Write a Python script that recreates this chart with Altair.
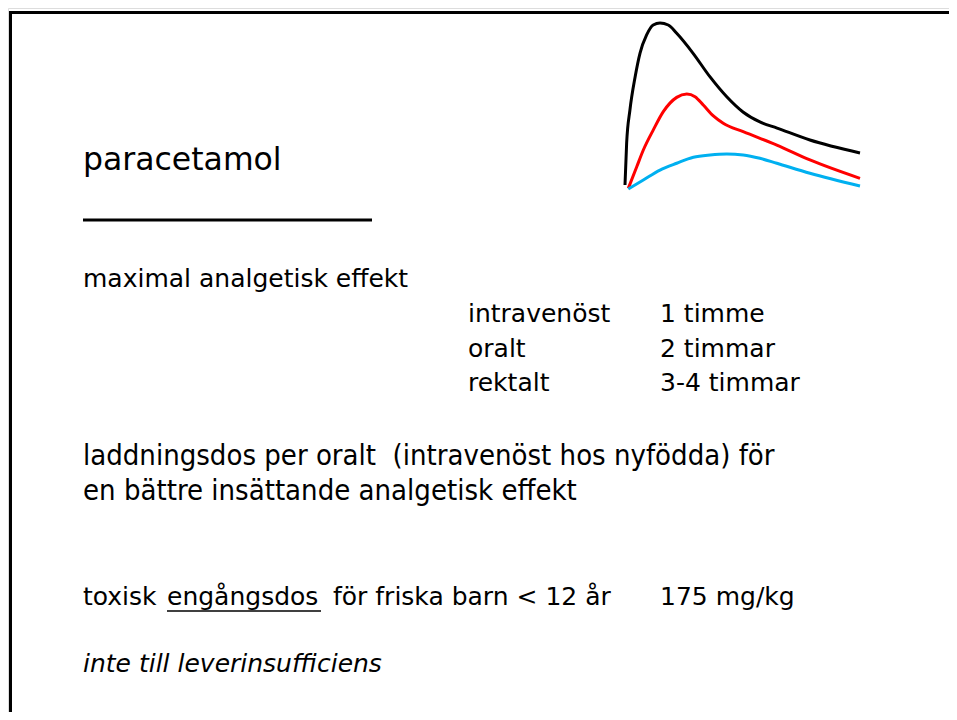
import altair as alt
import pandas as pd

# ---- page geometry (page pixel units, 8px margin) ----
W, H = 941, 704
XD = [8, 8 + W]
YD = [8, 8 + H]

# ---- curve data: time (h) vs relative concentration ----
black_t = [0.00, 0.07, 0.21, 0.43, 0.64, 0.92, 1.20, 1.49, 1.84, 2.20, 2.89, 3.62, 4.34, 5.02, 5.74, 6.47, 7.87, 10.0]
black_c = [2.4, 27.7, 47.6, 67.5, 81.9, 92.8, 98.8, 100.0, 98.8, 93.8, 81.9, 67.5, 55.4, 46.4, 40.4, 36.7, 29.5, 21.7]
red_t = [0.14, 0.50, 0.78, 1.20, 1.63, 2.20, 2.63, 2.98, 3.33, 3.76, 4.18, 5.03, 6.46, 7.87, 10.0]
red_c = [0.4, 13.4, 23.5, 35.5, 46.6, 55.2, 57.2, 55.6, 50.6, 44.0, 39.6, 34.5, 26.5, 17.5, 6.4]
blue_t = [0.14, 0.78, 1.49, 2.20, 2.91, 3.62, 4.33, 5.03, 5.74, 6.46, 7.87, 10.0]
blue_c = [0.0, 5.4, 11.4, 15.5, 19.1, 20.5, 21.1, 20.5, 18.5, 15.5, 9.5, 1.8]
series_names = ["intravenöst", "oralt", "rektalt"]
series_colors = ["#000000", "#FF0000", "#00B0F0"]

# ---- texts ----
title_text = ["paracetamol"]
body_text = ["maximal analgetisk effekt", "intravenöst", "oralt", "rektalt",
             "1 timme", "2 timmar", "3-4 timmar",
             "toxisk", "engångsdos", "för friska barn < 12 år", "175 mg/kg"]
narrow_text = ["laddningsdos per oralt \u00a0(intravenöst hos nyfödda) för",
               "en bättre insättande analgetisk effekt"]
italic_text = ["inte till leverinsufficiens"]

title_x, title_y = [83], [170]
body_x = [83, 468, 468, 468, 660, 660, 660, 83, 167, 333, 660]
body_y = [287, 322, 357, 391, 322, 357, 391, 605, 605, 605, 605]
narrow_x, narrow_y = [83, 83], [465, 500]
italic_x, italic_y = [83], [672]

# rules: frame left, frame top, title underline, word underline
rule_x = [10.5, 9, 83, 167]
rule_x2 = [10.5, 957, 372, 321]
rule_y = [11, 12.5, 220, 611]
rule_y2 = [720, 12.5, 220, 611]
rule_w = [3, 3, 3, 1.5]

xs = alt.Scale(domain=XD, range=[0, W])
ys = alt.Scale(domain=YD, range=[0, H])

def tdf(texts, xs_, ys_):
    return pd.DataFrame({"text": texts, "x": xs_, "y": ys_})

def text_layer(df, size, font, style="normal"):
    return alt.Chart(df).mark_text(
        align="left", baseline="alphabetic", fontSize=size, font=font,
        fontStyle=style, color="#000000"
    ).encode(
        x=alt.X("x:Q", scale=xs, axis=None),
        y=alt.Y("y:Q", scale=ys, axis=None),
        text="text:N",
    )

font_main = "DejaVu Sans"
title_layer = text_layer(tdf(title_text, title_x, title_y), 31.5, font_main)
body_layer = text_layer(tdf(body_text, body_x, body_y), 25, font_main)
narrow_layer = text_layer(tdf(narrow_text, narrow_x, narrow_y), 29, "DejaVu Sans Condensed")
italic_layer = text_layer(tdf(italic_text, italic_x, italic_y), 25, font_main, "italic")

rules_df = pd.DataFrame({"x": rule_x, "x2": rule_x2, "y": rule_y, "y2": rule_y2, "w": rule_w})
rule_layer = alt.Chart(rules_df).mark_rule(color="#000000").encode(
    x=alt.X("x:Q", scale=xs, axis=None),
    x2="x2:Q",
    y=alt.Y("y:Q", scale=ys, axis=None),
    y2="y2:Q",
    strokeWidth=alt.StrokeWidth("w:Q", scale=None, legend=None),
)

rows = []
for name, tt, cc in zip(series_names, [black_t, red_t, blue_t], [black_c, red_c, blue_c]):
    for i, (t, c) in enumerate(zip(tt, cc)):
        rows.append({"route": name, "t": t, "c": c, "i": i})
curve_df = pd.DataFrame(rows)

curve_layer = alt.Chart(curve_df).mark_line(strokeWidth=3, interpolate="monotone").encode(
    x=alt.X("t:Q", scale=alt.Scale(domain=[0, 10], range=[617, 852]), axis=None),
    y=alt.Y("c:Q", scale=alt.Scale(domain=[0, 100], range=[181, 15]), axis=None),
    color=alt.Color("route:N", scale=alt.Scale(domain=series_names, range=series_colors), legend=None),
    order="i:O",
)

text_part = alt.layer(rule_layer, title_layer, body_layer, narrow_layer, italic_layer)
chart = alt.layer(text_part, curve_layer).resolve_scale(x="independent", y="independent").properties(
    width=W, height=H, padding=0, autosize=alt.AutoSizeParams(type="none")
).configure_view(stroke=None).configure(background="#ffffff")

chart.save("out.html", embed_options={"renderer": "svg", "actions": False})
